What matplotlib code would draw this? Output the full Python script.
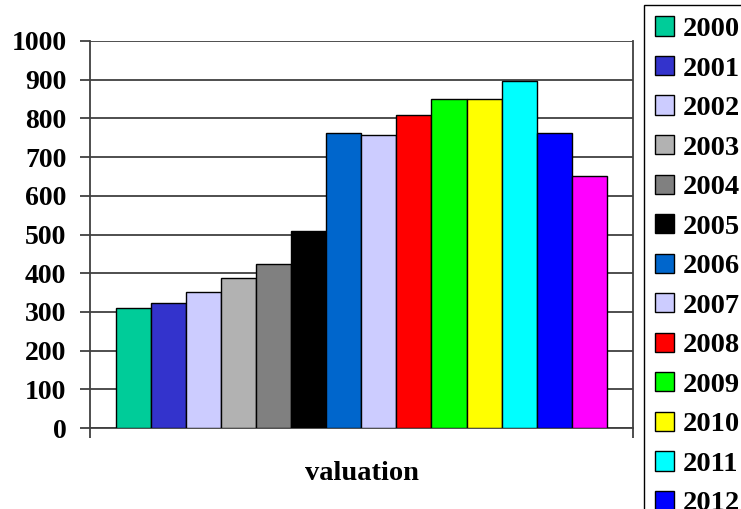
import matplotlib.pyplot as plt

years = ['2000', '2001', '2002', '2003', '2004', '2005', '2006',
         '2007', '2008', '2009', '2010', '2011', '2012', '2013']
values = [311, 323, 352, 387, 424, 508, 761, 758, 810, 851, 851, 897, 762, 651]
colors = ['#00CC99', '#3333CC', '#CCCCFF', '#B2B2B2', '#808080', '#000000', '#0066CC',
          '#CCCCFF', '#FF0000', '#00FF00', '#FFFF00', '#00FFFF', '#0000FF', '#FF00FF']
yticks = list(range(0, 1001, 100))

plt.rcParams['font.family'] = ['Liberation Serif', 'DejaVu Serif']
plt.rcParams['font.weight'] = 'bold'

fig = plt.figure(figsize=(7.41, 5.09), dpi=100)
ax = fig.add_axes([90 / 741, 1 - 428 / 509, 543 / 741, 387 / 509])

line_col = '#404040'

for i, (yr, v, c) in enumerate(zip(years, values, colors)):
    ax.bar(i, v, width=1.0, color=c, edgecolor='black', linewidth=1.0, label=yr, zorder=3)

xmin, xmax = -1.242, 14.25
ax.set_xlim(xmin, xmax)
ax.set_ylim(0, 1000)
ax.set_yticks(yticks)
ax.set_yticklabels([str(t) for t in yticks], fontsize=20, fontweight='bold')
ax.yaxis.grid(True, color=line_col, linewidth=1.3, zorder=0)
ax.set_axisbelow(True)

# category axis ticks at the edges only
ax.set_xticks([xmin, xmax])
ax.set_xticklabels(['', ''])
ax.tick_params(axis='x', direction='out', length=7, width=1.3, color=line_col)
ax.tick_params(axis='y', direction='out', length=7, width=1.3, color=line_col, pad=10)

for side in ['left', 'right', 'bottom']:
    ax.spines[side].set_color(line_col)
    ax.spines[side].set_linewidth(1.3)
ax.spines['top'].set_visible(False)

ax.set_xlabel('valuation', fontsize=20.5, fontweight='bold', labelpad=13)

leg = fig.legend(loc='upper left', bbox_to_anchor=(644 / 741, 1 - 5 / 509),
                 borderaxespad=0, frameon=True, fancybox=False, framealpha=1,
                 edgecolor='black', prop={'weight': 'bold', 'size': 20.5},
                 handlelength=0.66, handleheight=0.66, handletextpad=0.3,
                 labelspacing=0.49, borderpad=0.4)
leg.get_frame().set_linewidth(1.0)

fig.savefig('out.png', dpi=100)
